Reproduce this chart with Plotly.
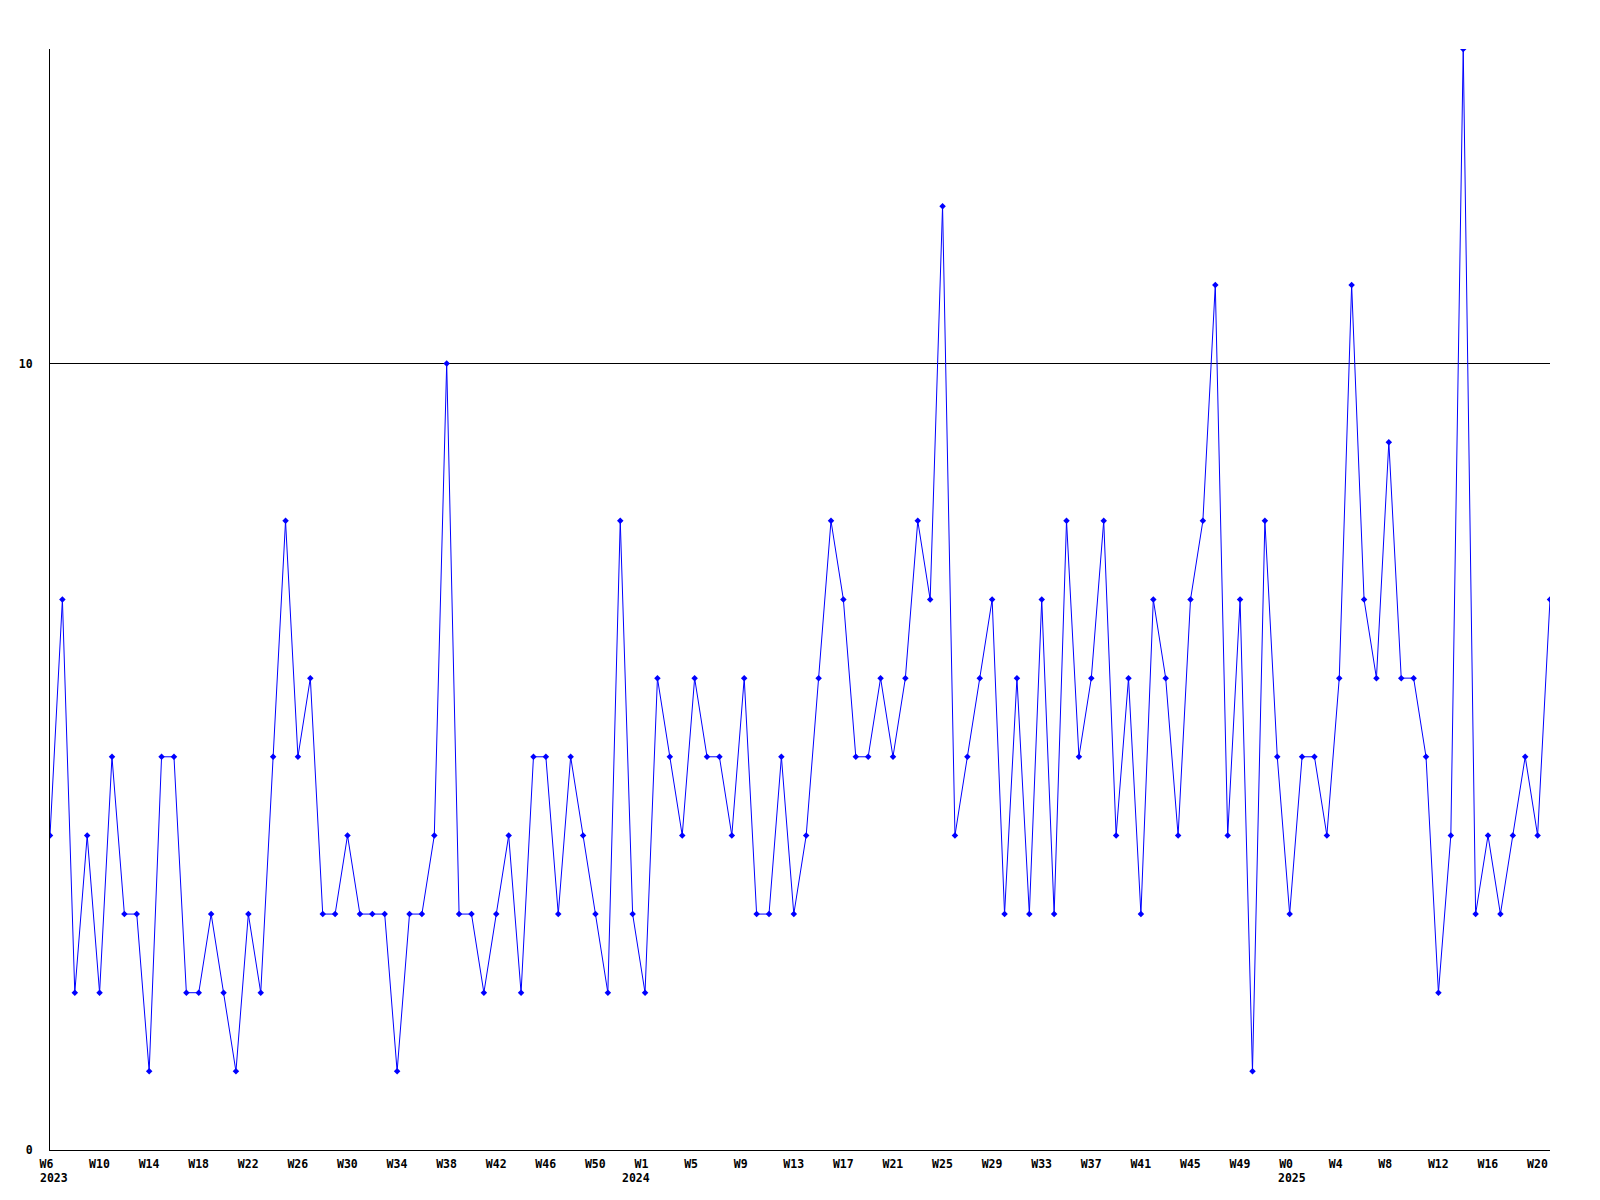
import plotly.graph_objects as go

values = [4, 7, 2, 4, 2, 5, 3, 3, 1, 5, 5, 2, 2, 3, 2, 1, 3, 2, 5, 8,
          5, 6, 3, 3, 4, 3, 3, 3, 1, 3, 3, 4, 10, 3, 3, 2, 3, 4, 2, 5,
          5, 3, 5, 4, 3, 2, 8, 3, 2, 6, 5, 4, 6, 5, 5, 4, 6, 3, 3, 5,
          3, 4, 6, 8, 7, 5, 5, 6, 5, 6, 8, 7, 12, 4, 5, 6, 7, 3, 6, 3,
          7, 3, 8, 5, 6, 8, 4, 6, 3, 7, 6, 4, 7, 8, 11, 4, 7, 1, 8, 5,
          3, 5, 5, 4, 6, 11, 7, 6, 9, 6, 6, 5, 2, 4, 14, 3, 4, 3, 4, 5,
          4, 7]

tick_positions = list(range(0, 121, 4))
tick_labels = ["W6", "W10", "W14", "W18", "W22", "W26", "W30", "W34", "W38", "W42",
               "W46", "W50", "W1", "W5", "W9", "W13", "W17", "W21", "W25", "W29",
               "W33", "W37", "W41", "W45", "W49", "W0", "W4", "W8", "W12", "W16", "W20"]
year_positions = [0, 48, 100]
year_labels = ["2023", "2024", "2025"]
y_ticks = [0, 10]

x = list(range(len(values)))

font = dict(family="DejaVu Sans Mono", size=11.5, color="black", weight="bold")

fig = go.Figure()
fig.add_trace(go.Scatter(
    x=x, y=values, mode="lines+markers",
    line=dict(color="#0000ff", width=1),
    marker=dict(symbol="diamond", size=5, color="#0000ff"),
    hoverinfo="skip",
))

year_shifts = [-12, -25, -14]
annotations = []
for pos, lab, sh in zip(year_positions, year_labels, year_shifts):
    annotations.append(dict(
        x=pos, y=0, xref="x", yref="paper", text=lab, showarrow=False,
        xanchor="left", yanchor="top", xshift=sh, yshift=-19, font=font,
    ))

fig.update_layout(
    width=1600, height=1200,
    margin=dict(l=42, r=58, t=41, b=58, autoexpand=False),
    paper_bgcolor="white", plot_bgcolor="white",
    showlegend=False,
    font=font,
    annotations=annotations,
    xaxis=dict(
        range=[0, len(values) - 1], tickmode="array",
        tickvals=tick_positions, ticktext=tick_labels,
        showgrid=False, zeroline=False, showline=True, linecolor="black", linewidth=1,
        ticks="", tickfont=font, ticklabelposition="outside right",
        ticklabelstandoff=3, ticklabelshift=-11, fixedrange=True,
    ),
    yaxis=dict(
        range=[0, 14], tickmode="array", tickvals=y_ticks,
        showgrid=True, gridcolor="black", gridwidth=1,
        zeroline=False, showline=True, linecolor="black", linewidth=1,
        ticks="", tickfont=font, ticklabelstandoff=14, fixedrange=True,
    ),
)

fig.write_html("out.html")
